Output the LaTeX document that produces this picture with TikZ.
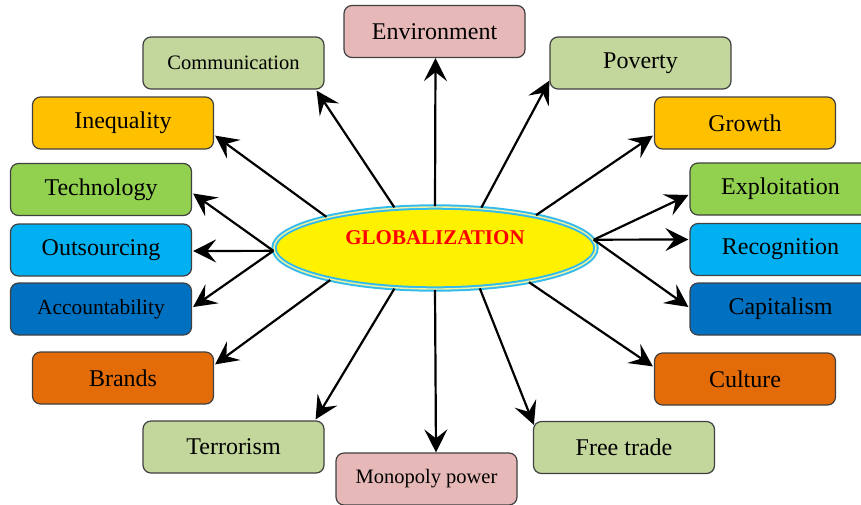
\documentclass[tikz,border=0pt]{standalone}
\usepackage{fontspec}
\setmainfont{Liberation Serif}
\usetikzlibrary{arrows.meta,calc,shapes.geometric}
\definecolor{cpink}{HTML}{E6B9B8}
\definecolor{colive}{HTML}{C3D69B}
\definecolor{cgold}{HTML}{FFC000}
\definecolor{cgreen}{HTML}{92D050}
\definecolor{ccyan}{HTML}{00B0F0}
\definecolor{cblue}{HTML}{0070C0}
\definecolor{corange}{HTML}{E36C09}
\definecolor{cborder}{HTML}{404040}
\definecolor{cring}{HTML}{33BBEE}
\definecolor{cringin}{HTML}{F2F2A0}
\tikzset{
  box/.style={draw=cborder, line width=1.2pt, rounded corners=8pt,
    minimum width=181pt, minimum height=52pt, inner sep=0pt,
    font=\fontsize{24}{27}\selectfont, text=black},
  smalltext/.style={font=\fontsize{20.5}{24}\selectfont},
  midtext/.style={font=\fontsize{21.5}{24}\selectfont},
  conn/.style={line width=2.2pt, draw=black,
    arrows={-Stealth[length=23pt,width=23pt,inset=9pt]}},
  globe/.style={ellipse, fill=yellow, draw=cring, double=cringin,
    double distance=1.4pt, line width=2pt,
    minimum width=322pt, minimum height=82pt, inner sep=0pt}
}
\begin{document}
\begin{tikzpicture}[x=1pt,y=-1pt]
\useasboundingbox (0,0) rectangle (861,504);
% centre
\node[globe] (G) at (435,248) {};
\node[font=\bfseries\fontsize{21}{24}\selectfont, text=red] (GT) at (435,238) {GLOBALIZATION};
% boxes
\node[box, fill=cpink] (Env) at (434.5,31.5) {Environment};
\node[box, fill=colive, smalltext] (Com) at (233.5,63) {Communication};
\node[box, fill=colive] (Pov) at (640.5,63) {Poverty};
\node[box, fill=cgold] (Ine) at (123,123) {Inequality};
\node[box, fill=cgold] (Gro) at (745,123) {Growth};
\node[box, fill=cgreen] (Tec) at (101,189.5) {Technology};
\node[box, fill=cgreen] (Exp) at (780.5,189) {Exploitation};
\node[box, fill=ccyan] (Out) at (101,250) {Outsourcing};
\node[box, fill=ccyan] (Rec) at (780.5,249.5) {Recognition};
\node[box, fill=cblue, midtext] (Acc) at (101,309) {Accountability};
\node[box, fill=cblue] (Cap) at (780.5,309) {Capitalism};
\node[box, fill=corange] (Bra) at (123,378) {Brands};
\node[box, fill=corange] (Cul) at (745,379) {Culture};
\node[box, fill=colive] (Ter) at (233.5,447) {Terrorism};
\node[box, fill=colive] (Fre) at (624,447.5) {Free trade};
\node[box, fill=cpink, smalltext] (Mon) at (426.5,479) {Monopoly power};
% connectors
\draw[conn] (G.90) -- ($(Env.south)+(1,0)$);
\draw[conn] (G.135) -- ($(Com.south east)+(-8,1)$);
\draw[conn] (G.41) -- ($(Pov.south west)+(0,-9)$);
\draw[conn] (G.164) -- ($(Ine.south east)+(1,-14)$);
\draw[conn] (G.18) -- ($(Gro.south west)+(-1,-14)$);
\draw[conn] (G.181) -- ($(Tec.east)+(1,4)$);
\draw[conn] (G.181) -- ($(Out.east)+(1,1)$);
\draw[conn] (G.181) -- ($(Acc.east)+(1,-2)$);
\draw[conn] (G.3) -- ($(Exp.west)+(-1,6)$);
\draw[conn] (G.3) -- ($(Rec.west)+(-1,-10)$);
\draw[conn] (G.3) -- ($(Cap.west)+(-1,-2)$);
\draw[conn] (G.197) -- ($(Bra.north east)+(1,13)$);
\draw[conn] (G.-20) -- ($(Cul.north west)+(-1,14)$);
\draw[conn] (G.225) -- ($(Ter.north east)+(-9,-1)$);
\draw[conn] (G.270) -- ($(Mon.north)+(9.5,0)$);
\draw[conn] (G.-42) -- ($(Fre.north west)+(1,4)$);
\end{tikzpicture}
\end{document}
